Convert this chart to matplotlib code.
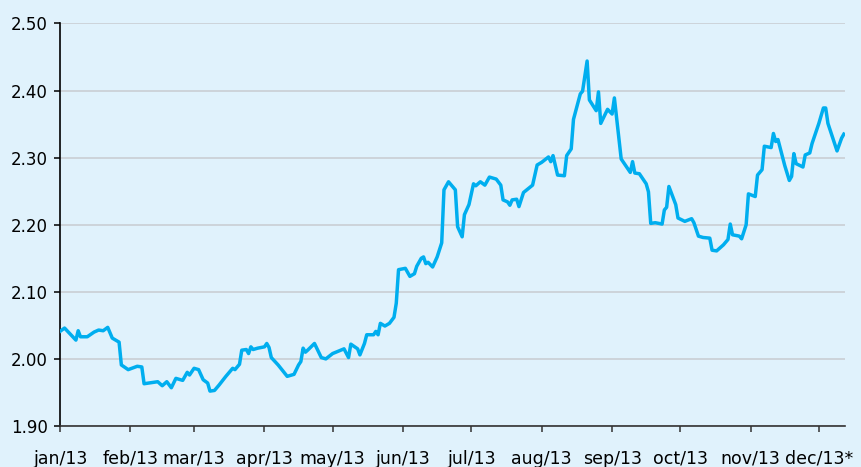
import matplotlib
matplotlib.use("Agg")
import matplotlib.pyplot as plt
import numpy as np
import pandas as pd

# days since 01/jan/2013 and the rate
dias = [0, 2, 7, 8, 9, 12, 15, 17, 19, 21, 23, 26, 27, 30, 34, 36, 37, 43, 45, 47,
        49, 51, 54, 56, 57, 59, 61, 63, 65, 66, 68, 70, 73, 76, 77, 79, 80, 82, 83, 84,
        85, 87, 90, 91, 92, 93, 96, 100, 103, 105, 106, 107, 108, 109, 112, 115, 117, 120, 125, 127,
        128, 131, 132, 134, 135, 138, 139, 140, 141, 143, 145, 147, 148, 149, 152, 154, 156, 157, 159, 160,
        161, 162, 164, 166, 168, 169, 171, 174, 175, 177, 178, 180, 182, 183, 185, 187, 189, 192, 194, 195,
        197, 198, 199, 201, 202, 204, 208, 210, 212, 215, 216, 217, 219, 222, 223, 225, 226, 229, 230, 232,
        233, 236, 237, 238, 241, 243, 244, 247, 251, 252, 253, 255, 257, 258, 259, 260, 262, 265, 266, 267,
        268, 271, 272, 275, 278, 279, 281, 283, 286, 287, 289, 292, 294, 295, 296, 299, 300, 302, 303, 306,
        307, 309, 310, 313, 314, 315, 316, 319, 321, 322, 323, 324, 327, 328, 330, 331, 334, 336, 337, 338,
        342, 344, 345]
taxa = [2.041, 2.046, 2.028, 2.042, 2.033, 2.033, 2.040, 2.043, 2.042, 2.047, 2.031, 2.025, 1.991, 1.984, 1.989, 1.988, 1.963, 1.966, 1.960, 1.966,
        1.957, 1.971, 1.968, 1.980, 1.976, 1.986, 1.984, 1.969, 1.964, 1.952, 1.953, 1.961, 1.974, 1.986, 1.984, 1.992, 2.013, 2.014, 2.008, 2.018,
        2.014, 2.016, 2.018, 2.023, 2.017, 2.002, 1.991, 1.974, 1.977, 1.991, 1.996, 2.016, 2.010, 2.013, 2.023, 2.002, 2.000, 2.008, 2.015, 2.002,
        2.022, 2.015, 2.006, 2.023, 2.036, 2.036, 2.041, 2.036, 2.053, 2.049, 2.053, 2.062, 2.083, 2.133, 2.135, 2.123, 2.127, 2.138, 2.150, 2.152,
        2.142, 2.144, 2.137, 2.152, 2.173, 2.252, 2.264, 2.252, 2.197, 2.182, 2.215, 2.230, 2.261, 2.258, 2.264, 2.259, 2.271, 2.268, 2.259, 2.237,
        2.234, 2.229, 2.237, 2.238, 2.227, 2.248, 2.259, 2.289, 2.293, 2.301, 2.294, 2.303, 2.274, 2.273, 2.303, 2.313, 2.357, 2.395, 2.399, 2.444,
        2.386, 2.370, 2.398, 2.351, 2.372, 2.365, 2.389, 2.298, 2.278, 2.294, 2.277, 2.276, 2.266, 2.261, 2.249, 2.202, 2.203, 2.201, 2.222, 2.226,
        2.257, 2.230, 2.210, 2.205, 2.209, 2.203, 2.183, 2.181, 2.180, 2.162, 2.161, 2.170, 2.178, 2.201, 2.185, 2.183, 2.179, 2.200, 2.246, 2.242,
        2.274, 2.282, 2.317, 2.315, 2.336, 2.324, 2.327, 2.288, 2.266, 2.272, 2.306, 2.291, 2.286, 2.304, 2.307, 2.321, 2.351, 2.374, 2.374, 2.351,
        2.310, 2.329, 2.335]

meses = ["jan/13", "feb/13", "mar/13", "apr/13", "may/13", "jun/13",
         "jul/13", "aug/13", "sep/13", "oct/13", "nov/13", "dec/13*"]
y_ticks = [1.90, 2.00, 2.10, 2.20, 2.30, 2.40, 2.50]

fundo = "#e0f2fc"
azul = "#00aeef"

inicio = pd.Timestamp("2013-01-01")
datas = inicio + pd.to_timedelta(dias, unit="D")
inicio_mes = pd.date_range("2013-01-01", periods=12, freq="MS")

fig = plt.figure(figsize=(8.61, 4.67), dpi=100, facecolor=fundo)
ax = fig.add_axes([0.0697, 0.0878, 0.9117, 0.862])
ax.set_facecolor(fundo)

ax.plot(datas, taxa, color=azul, lw=2.5, solid_joinstyle="round", zorder=3)

ax.set_ylim(1.90, 2.50)
ax.set_yticks(y_ticks)
ax.set_yticklabels([f"{v:.2f}" for v in y_ticks])
ax.set_xlim(inicio, inicio + pd.Timedelta(days=345.5))
ax.set_xticks(inicio_mes)
ax.set_xticklabels(meses)

ax.grid(axis="y", color="#c8ccd0", lw=1.1, zorder=1)
for lado in ["top", "right"]:
    ax.spines[lado].set_visible(False)
ax.spines["left"].set_color("black")
ax.spines["bottom"].set_color("#333333")
ax.spines["left"].set_linewidth(1.2)
ax.spines["bottom"].set_linewidth(1.2)

ax.tick_params(axis="y", length=4, width=1.1, pad=5, labelsize=12, colors="black")
ax.tick_params(axis="x", length=4, width=1.1, pad=13, labelsize=12.5, colors="#333333", labelcolor="black")

fig.savefig("out.png", dpi=100, facecolor=fundo)
